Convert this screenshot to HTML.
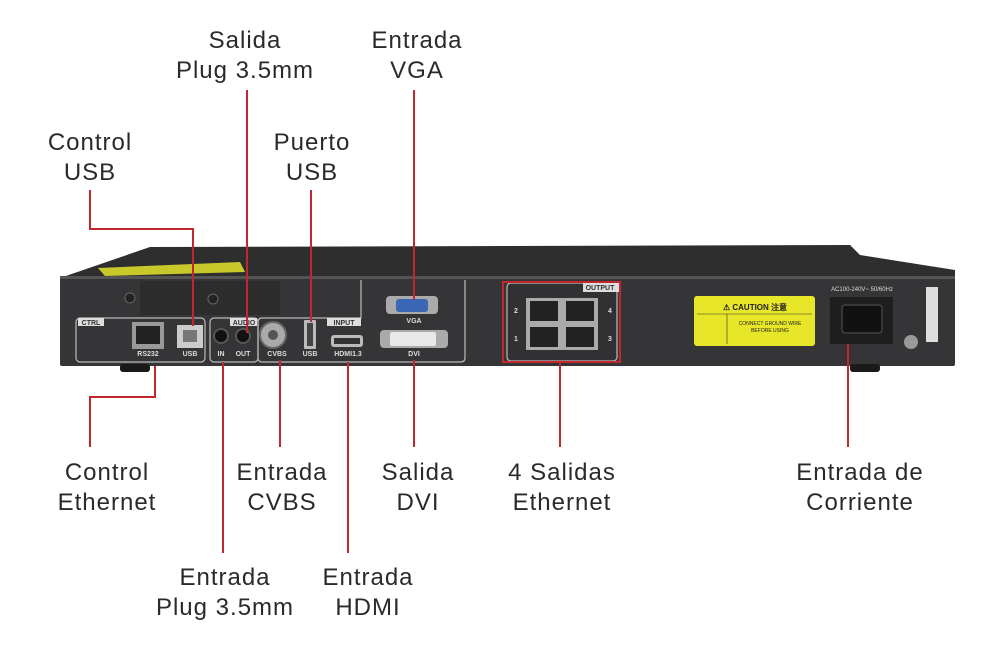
<!DOCTYPE html>
<html><head><meta charset="utf-8"><style>
html,body{margin:0;padding:0;background:#fff;}
svg{display:block}
text{font-family:"Liberation Sans",sans-serif;}
.l{font-size:24px;fill:#2a2a2a;text-anchor:middle;letter-spacing:1px}
.s{font-size:7px;fill:#ddd;font-weight:bold;text-anchor:middle}
.r{stroke:#c1272d;stroke-width:2;fill:none}
</style></head><body>
<svg width="1000" height="650" viewBox="0 0 1000 650">
<polygon points="60,278 150,247 850,245 860,255 955,270 955,280 60,280" fill="#2e2e2f"/>
<polygon points="98,268 240,262 245,272 105,276" fill="#c8c82a"/>
<rect x="60" y="276" width="895" height="90" fill="#353537" rx="2"/>
<rect x="60" y="276" width="895" height="3" fill="#555"/>
<rect x="120" y="364" width="30" height="8" rx="3" fill="#1a1a1a"/>
<rect x="850" y="364" width="30" height="8" rx="3" fill="#1a1a1a"/>
<rect x="140" y="281" width="140" height="34" fill="#2c2c2d"/>
<circle cx="130" cy="298" r="5" fill="#222" stroke="#666"/>
<circle cx="213" cy="299" r="5" fill="#222" stroke="#666"/>
<path d="M361,280 V318 H262 Q258,318 258,322 V358 Q258,362 262,362 H460 Q465,362 465,358 V280" stroke="#bbb" stroke-width="1.2" fill="none"/>
<rect x="76" y="318" width="129" height="44" rx="4" stroke="#bbb" stroke-width="1.2" fill="none"/>
<rect x="210" y="318" width="48" height="44" rx="4" stroke="#bbb" stroke-width="1.2" fill="none"/>
<rect x="78" y="318" width="26" height="8" fill="#ddd"/><text x="91" y="325" class="s" style="fill:#333">CTRL</text>
<rect x="230" y="318" width="27" height="8" fill="#ddd"/><text x="244" y="325" class="s" style="fill:#333">AUDIO</text>
<rect x="327" y="318" width="34" height="8" fill="#ddd"/><text x="344" y="325" class="s" style="fill:#333">INPUT</text>
<rect x="132" y="322" width="32" height="27" fill="#999"/><rect x="136" y="326" width="24" height="18" fill="#222"/>
<text x="148" y="356" class="s">RS232</text>
<rect x="177" y="325" width="26" height="23" fill="#ccc"/><rect x="183" y="330" width="14" height="12" fill="#777"/>
<text x="190" y="356" class="s">USB</text>
<circle cx="221" cy="336" r="7" fill="#111" stroke="#555" stroke-width="2"/>
<circle cx="243" cy="336" r="7" fill="#111" stroke="#555" stroke-width="2"/>
<text x="221" y="356" class="s">IN</text><text x="243" y="356" class="s">OUT</text>
<circle cx="273" cy="335" r="13" fill="#aaa" stroke="#666" stroke-width="2"/><circle cx="273" cy="335" r="5" fill="#555"/>
<text x="277" y="356" class="s">CVBS</text>
<rect x="304" y="320" width="12" height="29" rx="1" fill="#bbb"/><rect x="307" y="323" width="6" height="23" fill="#444"/>
<text x="310" y="356" class="s">USB</text>
<rect x="331" y="335" width="32" height="12" rx="3" fill="#bbb"/><rect x="334" y="338" width="26" height="6" fill="#333"/>
<text x="348" y="356" class="s">HDMI1.3</text>
<rect x="386" y="296" width="52" height="18" rx="4" fill="#aaa"/><rect x="396" y="299" width="32" height="13" rx="3" fill="#3b66b5"/>
<text x="414" y="323" class="s">VGA</text>
<rect x="380" y="330" width="68" height="18" rx="4" fill="#aaa"/><rect x="390" y="332" width="46" height="14" rx="2" fill="#e8e8e8"/>
<text x="414" y="356" class="s">DVI</text>
<rect x="507" y="283" width="110" height="78" rx="4" stroke="#bbb" stroke-width="1.2" fill="#313133"/>
<rect x="583" y="283" width="36" height="9" fill="#ddd"/><text x="600" y="290" class="s" style="fill:#333">OUTPUT</text>
<rect x="526" y="298" width="72" height="52" fill="#aaa"/>
<rect x="530" y="301" width="28" height="20" fill="#222"/><rect x="566" y="301" width="28" height="20" fill="#222"/>
<rect x="530" y="327" width="28" height="20" fill="#222"/><rect x="566" y="327" width="28" height="20" fill="#222"/>
<text x="516" y="313" class="s">2</text><text x="516" y="341" class="s">1</text><text x="610" y="313" class="s">4</text><text x="610" y="341" class="s">3</text>
<rect x="503" y="282" width="117" height="80" class="r"/>
<rect x="694" y="296" width="121" height="50" rx="3" fill="#e8e628"/>
<text x="755" y="310" style="font-size:8px;font-weight:bold;fill:#222" text-anchor="middle">⚠ CAUTION 注意</text>
<line x1="697" y1="314" x2="812" y2="314" stroke="#333" stroke-width="0.6"/>
<line x1="727" y1="314" x2="727" y2="344" stroke="#333" stroke-width="0.6"/>
<text x="770" y="325" style="font-size:5px;fill:#222" text-anchor="middle">CONNECT GROUND WIRE</text>
<text x="770" y="332" style="font-size:5px;fill:#222" text-anchor="middle">BEFORE USING</text>
<text x="862" y="291" style="font-size:6px;fill:#ddd" text-anchor="middle">AC100-240V~ 50/60Hz</text>
<rect x="830" y="297" width="63" height="47" fill="#1e1e1e"/><rect x="842" y="305" width="40" height="28" rx="3" fill="#111" stroke="#555"/>
<circle cx="911" cy="342" r="7" fill="#999"/>
<rect x="926" y="287" width="12" height="55" fill="#ddd"/>
<text class="l" x="245" y="48">Salida</text><text class="l" x="245" y="78">Plug 3.5mm</text>
<text class="l" x="417" y="48">Entrada</text><text class="l" x="417" y="78">VGA</text>
<text class="l" x="90" y="150">Control</text><text class="l" x="90" y="180">USB</text>
<text class="l" x="312" y="150">Puerto</text><text class="l" x="312" y="180">USB</text>
<text class="l" x="107" y="480">Control</text><text class="l" x="107" y="510">Ethernet</text>
<text class="l" x="282" y="480">Entrada</text><text class="l" x="282" y="510">CVBS</text>
<text class="l" x="418" y="480">Salida</text><text class="l" x="418" y="510">DVI</text>
<text class="l" x="562" y="480">4 Salidas</text><text class="l" x="562" y="510">Ethernet</text>
<text class="l" x="860" y="480">Entrada de</text><text class="l" x="860" y="510">Corriente</text>
<text class="l" x="225" y="585">Entrada</text><text class="l" x="225" y="615">Plug 3.5mm</text>
<text class="l" x="368" y="585">Entrada</text><text class="l" x="368" y="615">HDMI</text>
<path class="r" d="M90,190 V229 H193 V326"/>
<path class="r" d="M247,90 V333"/>
<path class="r" d="M311,190 V322"/>
<path class="r" d="M414,90 V300"/>
<path class="r" d="M155,366 V397 H90 V447"/>
<path class="r" d="M280,360 V447"/>
<path class="r" d="M414,360 V447"/>
<path class="r" d="M560,362 V447"/>
<path class="r" d="M848,344 V447"/>
<path class="r" d="M223,362 V553"/>
<path class="r" d="M348,362 V553"/>
</svg>
</body></html>
